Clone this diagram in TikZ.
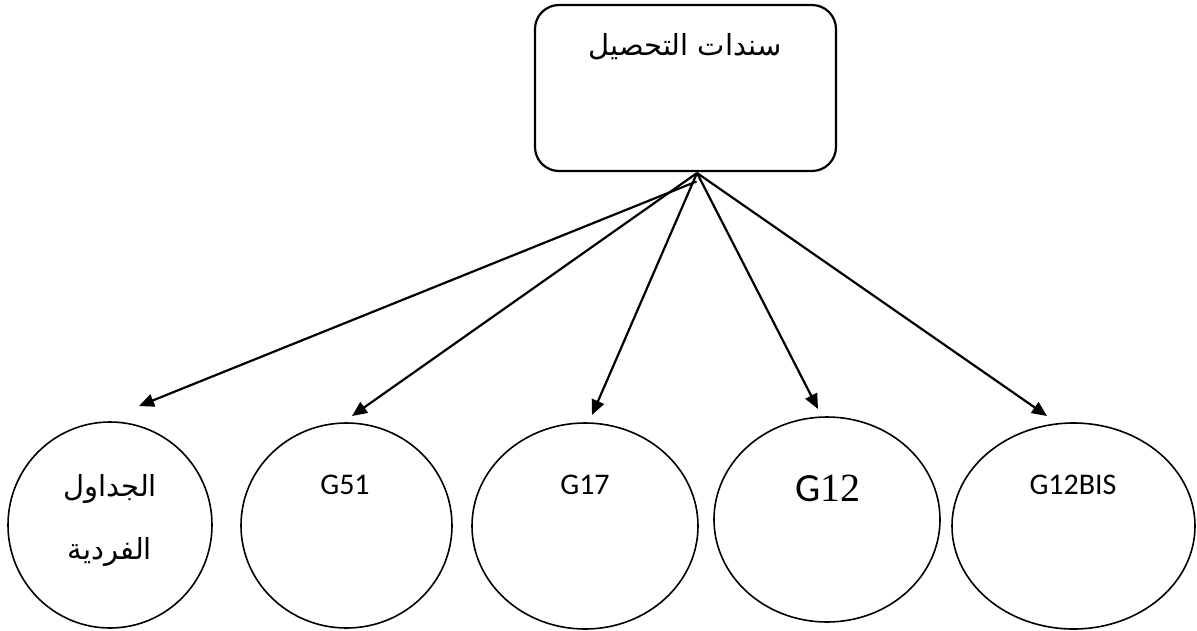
\documentclass[tikz,border=0pt]{standalone}
\usepackage{fontspec}
\setmainfont{Carlito}
\newfontfamily\arabicfont[Script=Arabic]{DejaVu Sans}
\newfontfamily\digitfont{Liberation Serif}
\TeXXeTstate=1
\usetikzlibrary{shapes.geometric,arrows.meta}

\tikzset{
  box/.style={draw, line width=2.2pt, rounded corners=24pt, inner sep=0pt},
  oval/.style={draw, ellipse, line width=1.6pt, inner sep=0pt},
  label text/.style={inner sep=0pt, font=\fontsize{30}{34}\selectfont},
  ar text/.style={inner sep=0pt, font=\arabicfont\fontsize{29}{33}\selectfont},
  link/.style={line width=2.2pt, -{Triangle[length=15pt,width=13pt]}}
}

\begin{document}
\begin{tikzpicture}[x=1pt, y=-1pt]
  \useasboundingbox (0,0) rectangle (1197,630);

  % parent box
  \node[box, minimum width=301pt, minimum height=166pt] (root) at (685.5,88) {};
  \node[ar text] (rootText) at (685,47) {\beginR سندات التحصيل\endR};

  % child ellipses
  \node[oval, minimum width=204pt, minimum height=206pt] (e1) at (110,525) {};
  \node[oval, minimum width=211pt, minimum height=205pt] (e2) at (346.5,525.5) {};
  \node[oval, minimum width=226pt, minimum height=206pt] (e3) at (585,526) {};
  \node[oval, minimum width=226pt, minimum height=205pt] (e4) at (827,519.5) {};
  \node[oval, minimum width=243pt, minimum height=206pt] (e5) at (1073.5,526) {};

  % ellipse texts
  \node[ar text] (t1a) at (110,489) {\beginR الجداول\endR};
  \node[ar text] (t1b) at (110,552) {\beginR الفردية\endR};
  \node[label text] (t2) at (345,485) {G51};
  \node[label text] (t3) at (585,485) {G17};
  \node[inner sep=0pt] (t4) at (828,488) {\fontsize{40}{44}\selectfont G\digitfont 12};
  \node[label text] (t5) at (1073,485) {G12BIS};

  % connector ends
  \coordinate (src) at (697,173);
  \coordinate (srcLow) at (696.5,181.5);
  \coordinate (tip1) at (139,406);
  \coordinate (tip2) at (352,416);
  \coordinate (tip3) at (592,415);
  \coordinate (tip4) at (818,409);
  \coordinate (tip5) at (1047,416);

  \draw[link] (srcLow) -- (tip1);
  \draw[link] (src) -- (tip2);
  \draw[link] (src) -- (tip3);
  \draw[link] (src) -- (tip4);
  \draw[link] (src) -- (tip5);
\end{tikzpicture}
\end{document}
